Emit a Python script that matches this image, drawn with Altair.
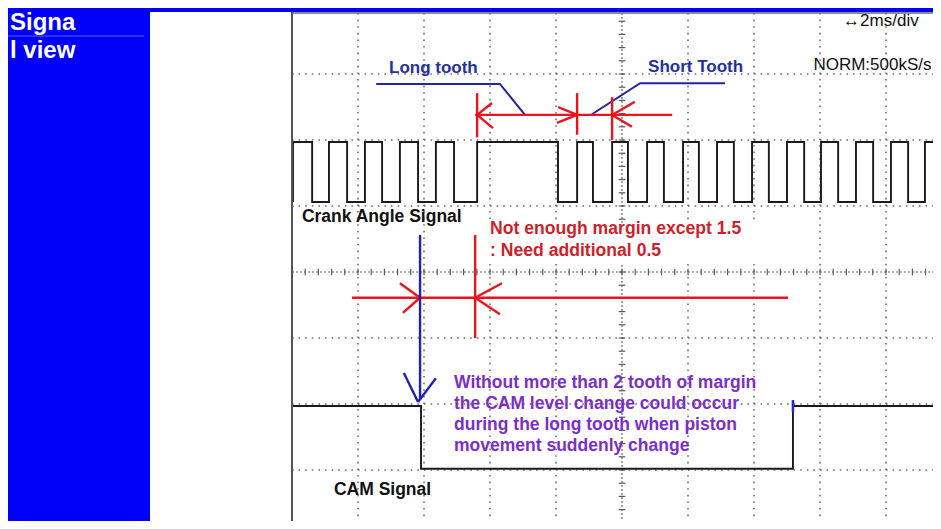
import altair as alt
import pandas as pd

# ---------------- values ----------------
# time in ms (scope is 2 ms/div), vertical position in screen divisions from the scope top
crank_edges_ms = [0.03, 0.61, 1.12, 1.67, 2.21, 2.73, 3.27, 3.82, 4.36, 4.91,
                  5.61, 8.06, 8.64, 9.12, 9.70, 10.18, 10.76, 11.27, 11.85, 12.33,
                  12.88, 13.39, 13.94, 14.45, 15.00, 15.52, 16.03, 16.55, 17.09,
                  17.61, 18.15, 18.67, 19.18]
crank_low_div, crank_high_div = 2.94, 2.03
cam_edges_ms = [3.91, 15.18]
cam_high_div, cam_low_div = 6.03, 6.98
trace_start_ms, trace_end_ms = 0.03, 19.8

grid_ms = [2, 4, 6, 8, 12, 14, 16, 18]
grid_div = [1, 2, 3, 5, 6, 7]
center_ms, center_div = 10, 4

# annotation geometry (ms, div)
long_leader_t = [2.55, 6.30, 7.06]
long_leader_d = [1.15, 1.15, 1.62]
short_leader_t = [13.12, 10.55, 9.09]
short_leader_d = [1.14, 1.14, 1.61]

red_t1 = [5.55, 5.61, 8.64, 9.70, 5.61, 5.61, 8.64, 8.64, 9.70, 9.70,
          1.82, 5.55, 3.88, 3.88, 5.55, 5.55]
red_d1 = [1.62, 1.29, 1.29, 1.35, 1.62, 1.62, 1.62, 1.62, 1.62, 1.62,
          4.39, 3.44, 4.39, 4.39, 4.39, 4.39]
red_t2 = [11.52, 5.61, 8.64, 9.70, 6.06, 6.09, 8.06, 8.03, 10.39, 10.30,
          15.03, 5.55, 3.27, 3.36, 6.36, 6.30]
red_d2 = [1.62, 1.96, 1.92, 2.00, 1.44, 1.82, 1.50, 1.74, 1.42, 1.80,
          4.39, 5.00, 4.17, 4.62, 4.17, 4.64]

blue_t1 = [3.88, 3.39, 4.36]
blue_d1 = [3.44, 5.53, 5.61]
blue_t2 = [3.88, 3.82, 3.82]
blue_d2 = [5.94, 5.97, 5.97]

blue_labels = ["Long tooth", "Short Tooth"]
blue_labels_t = [2.94, 10.79]
blue_labels_d = [0.985, 0.97]
black_labels = ["Crank Angle Signal", "CAM Signal"]
black_labels_t = [0.30, 1.27]
black_labels_d = [3.24, 7.38]
red_labels = ["Not enough margin except 1.5", ": Need additional 0.5"]
red_labels_t = [6.0, 6.0]
red_labels_d = [3.42, 3.76]
purple_labels = ["Without more than 2 tooth of margin",
                 "the CAM level change could occur",
                 "during the long tooth when piston",
                 "movement suddenly change"]
purple_labels_t = [4.91, 4.91, 4.91, 4.91]
purple_labels_d = [5.76, 6.08, 6.39, 6.71]
scope_labels = ["\u21942ms/div", "NORM:500kS/s"]
scope_labels_t = [16.70, 15.80]
scope_labels_d = [0.27, 0.94]
panel_labels = ["Signa", "l view"]

# ---------------- layout ----------------
W, H = 925, 513
X0 = 284          # pixel of t = 0 (scope frame)
PX_MS = 33.0      # 66 px per 2 ms division
DIV = 66.0
FONT = "Liberation Sans"

xs = alt.Scale(domain=[-X0 / PX_MS, (W - X0) / PX_MS], nice=False, zero=False)
ys = alt.Scale(domain=[0, H / DIV], reverse=True, nice=False, zero=False)


def X(f):
    return alt.X(f, type="quantitative", scale=xs, axis=None)


def Y(f):
    return alt.Y(f, type="quantitative", scale=ys, axis=None)


def steps(edges, first, second, start, end):
    lv = [first, second]
    cur = 0
    rows = [(start, lv[cur])]
    for e in edges:
        rows.append((e, lv[cur]))
        cur = 1 - cur
        rows.append((e, lv[cur]))
    rows.append((end, lv[cur]))
    return pd.DataFrame({"t": [r[0] for r in rows], "d": [r[1] for r in rows],
                         "i": list(range(len(rows)))})


one = pd.DataFrame({"k": [0]})

# left blue panel and top bar
panel = alt.Chart(one).mark_rect(color="#0000fa").encode(
    x=alt.value(0), x2=alt.value(142), y=alt.value(0), y2=alt.value(H))
topbar = alt.Chart(one).mark_rect(color="#0000fa").encode(
    x=alt.value(142), x2=alt.value(W), y=alt.value(0), y2=alt.value(4))
divider = alt.Chart(one).mark_rule(color="#5c5cff", strokeWidth=1).encode(
    x=alt.value(0), x2=alt.value(136), y=alt.value(28))
panel_text = [
    alt.Chart(one).mark_text(align="left", baseline="alphabetic", font=FONT,
                             fontWeight="bold", fontSize=24, color="white").encode(
        x=alt.value(2), y=alt.value(yy), text=alt.value(s))
    for s, yy in zip(panel_labels, [22, 50])
]

# scope grid
dot = dict(color="#6e6e6e", strokeWidth=1.6, strokeDash=[1.6, 5])
vgrid = alt.Chart(pd.DataFrame({"t": grid_ms})).mark_rule(**dot).encode(
    x=X("t"), y=alt.value(5), y2=alt.value(H))
hgrid = alt.Chart(pd.DataFrame({"d": grid_div})).mark_rule(**dot).encode(
    y=Y("d"), x=alt.value(X0), x2=alt.value(W))
cdash = dict(color="#6a6a6a", strokeWidth=1.2, strokeDash=[2, 2])
vcenter = alt.Chart(pd.DataFrame({"t": [center_ms]})).mark_rule(**cdash).encode(
    x=X("t"), y=alt.value(5), y2=alt.value(H))
hcenter = alt.Chart(pd.DataFrame({"d": [center_div]})).mark_rule(**cdash).encode(
    y=Y("d"), x=alt.value(X0), x2=alt.value(W))
htk = [0.4 * k for k in range(1, 50)]
hticks = alt.Chart(pd.DataFrame({"t": htk, "a": [center_div - 0.05] * len(htk),
                                 "b": [center_div + 0.05] * len(htk)})).mark_rule(
    color="#5a5a5a", strokeWidth=1.2).encode(x=X("t"), y=Y("a"), y2="b:Q")
vtk = [0.2 * k for k in range(1, 39)]
vticks = alt.Chart(pd.DataFrame({"d": vtk, "a": [center_ms - 0.1] * len(vtk),
                                 "b": [center_ms + 0.1] * len(vtk)})).mark_rule(
    color="#5a5a5a", strokeWidth=1.2).encode(y=Y("d"), x=X("a"), x2="b:Q")
frame_left = alt.Chart(one).mark_rule(color="#555555", strokeWidth=2).encode(
    x=alt.value(X0), y=alt.value(4), y2=alt.value(H))
frame_top = alt.Chart(one).mark_rule(color="#666666", strokeWidth=1.5).encode(
    x=alt.value(X0), x2=alt.value(W), y=alt.value(5))

# white box behind red text (grid erased there in the original)
red_box = alt.Chart(pd.DataFrame({"t": [5.88], "t2": [14.2], "d": [3.27], "d2": [3.88]})).mark_rect(
    color="white").encode(x=X("t"), x2="t2:Q", y=Y("d"), y2="d2:Q")

# traces
crank = alt.Chart(steps(crank_edges_ms, crank_low_div, crank_high_div,
                        trace_start_ms, trace_end_ms)).mark_line(
    color="#1a1a1a", strokeWidth=1.9, clip=True).encode(x=X("t"), y=Y("d"), order="i:Q")
cam = alt.Chart(steps(cam_edges_ms, cam_high_div, cam_low_div,
                      trace_start_ms, trace_end_ms)).mark_line(
    color="#1a1a1a", strokeWidth=1.9, clip=True).encode(x=X("t"), y=Y("d"), order="i:Q")
cam_marker = alt.Chart(pd.DataFrame({"t": [cam_edges_ms[1]], "a": [5.94], "b": [6.12]})).mark_rule(
    color="#2828d8", strokeWidth=2.5).encode(x=X("t"), y=Y("a"), y2="b:Q")

# annotations
leader_color = "#24249e"
long_leader = alt.Chart(pd.DataFrame({"t": long_leader_t, "d": long_leader_d, "i": [0, 1, 2]})).mark_line(
    color=leader_color, strokeWidth=2).encode(x=X("t"), y=Y("d"), order="i:Q")
short_leader = alt.Chart(pd.DataFrame({"t": short_leader_t, "d": short_leader_d, "i": [0, 1, 2]})).mark_line(
    color=leader_color, strokeWidth=2).encode(x=X("t"), y=Y("d"), order="i:Q")
red_seg = alt.Chart(pd.DataFrame({"t1": red_t1, "d1": red_d1, "t2": red_t2, "d2": red_d2})).mark_rule(
    color="#e8141e", strokeWidth=2.4).encode(x=X("t1"), y=Y("d1"), x2="t2:Q", y2="d2:Q")
blue_seg = alt.Chart(pd.DataFrame({"t1": blue_t1, "d1": blue_d1, "t2": blue_t2, "d2": blue_d2})).mark_rule(
    color="#2020b4", strokeWidth=2.4).encode(x=X("t1"), y=Y("d1"), x2="t2:Q", y2="d2:Q")


def labels(texts, ts, ds, color, size, weight="bold"):
    df = pd.DataFrame({"s": texts, "t": ts, "d": ds})
    return alt.Chart(df).mark_text(align="left", baseline="alphabetic", font=FONT,
                                   fontWeight=weight, fontSize=size, color=color).encode(
        x=X("t"), y=Y("d"), text="s:N")


txt_blue = labels(blue_labels, blue_labels_t, blue_labels_d, "#2230a4", 17)
txt_black = labels(black_labels, black_labels_t, black_labels_d, "#111111", 17.5)
txt_red = labels(red_labels, red_labels_t, red_labels_d, "#cf1f2b", 17.6)
txt_purple = labels(purple_labels, purple_labels_t, purple_labels_d, "#7b2fc9", 17.5)
txt_scope = labels(scope_labels, scope_labels_t, scope_labels_d, "#111111", 17, "normal")

chart = alt.layer(
    vgrid, hgrid, vcenter, hcenter, hticks, vticks, red_box,
    crank, cam, cam_marker,
    long_leader, short_leader, red_seg, blue_seg,
    txt_blue, txt_black, txt_red, txt_purple, txt_scope,
    frame_left, frame_top, panel, topbar, divider, *panel_text
).properties(
    width=W, height=H, padding=0,
    autosize=alt.AutoSizeParams(type="none"),
    background="white"
).configure_view(stroke=None)

chart.save("out.html", embed_options={"renderer": "svg", "actions": False})
